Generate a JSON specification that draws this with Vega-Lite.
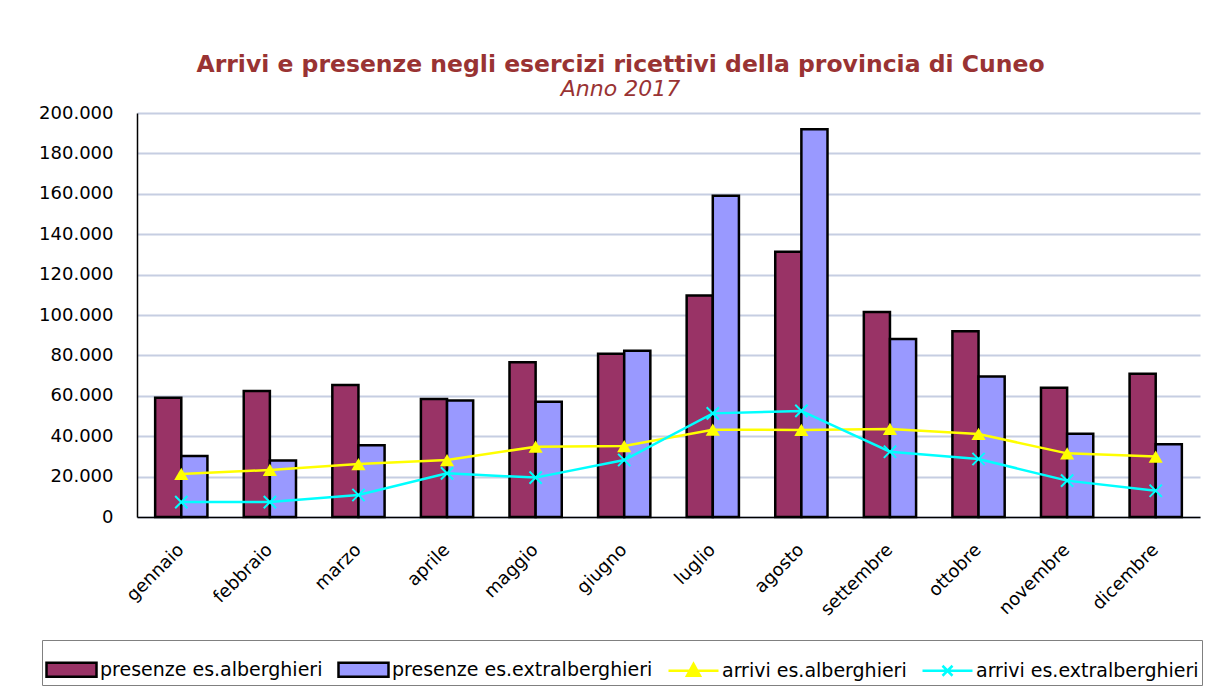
{
  "$schema": "https://vega.github.io/schema/vega-lite/v6.json",
  "width": 1063,
  "height": 404,
  "autosize": {"type": "none"},
  "padding": {"left": 137, "top": 113, "right": 17, "bottom": 169},
  "background": "white",
  "config": {
    "locale": {"number": {"decimal": ",", "thousands": ".", "grouping": [3], "currency": ["", " €"]}},
    "font": "DejaVu Sans",
    "view": {"stroke": null},
    "axis": {"labelFont": "DejaVu Sans", "labelColor": "black", "title": null}
  },
  "title": {
    "text": "Arrivi e presenze negli esercizi ricettivi della provincia di Cuneo",
    "subtitle": "Anno 2017",
    "anchor": "middle",
    "dx": -48,
    "offset": 4,
    "font": "DejaVu Sans",
    "fontSize": 23.5,
    "fontWeight": "bold",
    "color": "#993333",
    "subtitleFont": "DejaVu Sans",
    "subtitleFontSize": 22,
    "subtitleFontStyle": "italic",
    "subtitleColor": "#993333",
    "subtitlePadding": 3
  },
  "data": {
    "values": [
      {"mese": "gennaio", "serie": "presenze es.alberghieri", "valore": 59000},
      {"mese": "febbraio", "serie": "presenze es.alberghieri", "valore": 62400},
      {"mese": "marzo", "serie": "presenze es.alberghieri", "valore": 65300},
      {"mese": "aprile", "serie": "presenze es.alberghieri", "valore": 58400},
      {"mese": "maggio", "serie": "presenze es.alberghieri", "valore": 76600},
      {"mese": "giugno", "serie": "presenze es.alberghieri", "valore": 80800},
      {"mese": "luglio", "serie": "presenze es.alberghieri", "valore": 109700},
      {"mese": "agosto", "serie": "presenze es.alberghieri", "valore": 131300},
      {"mese": "settembre", "serie": "presenze es.alberghieri", "valore": 101500},
      {"mese": "ottobre", "serie": "presenze es.alberghieri", "valore": 92000},
      {"mese": "novembre", "serie": "presenze es.alberghieri", "valore": 64000},
      {"mese": "dicembre", "serie": "presenze es.alberghieri", "valore": 70900},
      {"mese": "gennaio", "serie": "presenze es.extralberghieri", "valore": 30200},
      {"mese": "febbraio", "serie": "presenze es.extralberghieri", "valore": 28000},
      {"mese": "marzo", "serie": "presenze es.extralberghieri", "valore": 35500},
      {"mese": "aprile", "serie": "presenze es.extralberghieri", "valore": 57700},
      {"mese": "maggio", "serie": "presenze es.extralberghieri", "valore": 57100},
      {"mese": "giugno", "serie": "presenze es.extralberghieri", "valore": 82300},
      {"mese": "luglio", "serie": "presenze es.extralberghieri", "valore": 159000},
      {"mese": "agosto", "serie": "presenze es.extralberghieri", "valore": 191900},
      {"mese": "settembre", "serie": "presenze es.extralberghieri", "valore": 88100},
      {"mese": "ottobre", "serie": "presenze es.extralberghieri", "valore": 69600},
      {"mese": "novembre", "serie": "presenze es.extralberghieri", "valore": 41200},
      {"mese": "dicembre", "serie": "presenze es.extralberghieri", "valore": 36000},
      {"mese": "gennaio", "serie": "arrivi es.alberghieri", "valore": 21300},
      {"mese": "febbraio", "serie": "arrivi es.alberghieri", "valore": 23300},
      {"mese": "marzo", "serie": "arrivi es.alberghieri", "valore": 26200},
      {"mese": "aprile", "serie": "arrivi es.alberghieri", "valore": 28200},
      {"mese": "maggio", "serie": "arrivi es.alberghieri", "valore": 34800},
      {"mese": "giugno", "serie": "arrivi es.alberghieri", "valore": 35100},
      {"mese": "luglio", "serie": "arrivi es.alberghieri", "valore": 43200},
      {"mese": "agosto", "serie": "arrivi es.alberghieri", "valore": 43100},
      {"mese": "settembre", "serie": "arrivi es.alberghieri", "valore": 43600},
      {"mese": "ottobre", "serie": "arrivi es.alberghieri", "valore": 41100},
      {"mese": "novembre", "serie": "arrivi es.alberghieri", "valore": 31500},
      {"mese": "dicembre", "serie": "arrivi es.alberghieri", "valore": 29900},
      {"mese": "gennaio", "serie": "arrivi es.extralberghieri", "valore": 7400},
      {"mese": "febbraio", "serie": "arrivi es.extralberghieri", "valore": 7400},
      {"mese": "marzo", "serie": "arrivi es.extralberghieri", "valore": 10900},
      {"mese": "aprile", "serie": "arrivi es.extralberghieri", "valore": 21600},
      {"mese": "maggio", "serie": "arrivi es.extralberghieri", "valore": 19500},
      {"mese": "giugno", "serie": "arrivi es.extralberghieri", "valore": 28200},
      {"mese": "luglio", "serie": "arrivi es.extralberghieri", "valore": 51300},
      {"mese": "agosto", "serie": "arrivi es.extralberghieri", "valore": 52500},
      {"mese": "settembre", "serie": "arrivi es.extralberghieri", "valore": 32300},
      {"mese": "ottobre", "serie": "arrivi es.extralberghieri", "valore": 28700},
      {"mese": "novembre", "serie": "arrivi es.extralberghieri", "valore": 18000},
      {"mese": "dicembre", "serie": "arrivi es.extralberghieri", "valore": 13000}
    ]
  },
  "layer": [
    {
      "transform": [{"filter": "indexof(datum.serie, 'presenze') === 0"}],
      "mark": {"type": "bar", "stroke": "black", "strokeWidth": 2.5, "opacity": 1},
      "encoding": {
        "x": {
          "field": "mese", "type": "nominal",
          "sort": ["gennaio","febbraio","marzo","aprile","maggio","giugno","luglio","agosto","settembre","ottobre","novembre","dicembre"],
          "scale": {"paddingInner": 0.41, "paddingOuter": 0.205},
          "axis": {"labelAngle": -45, "labelAlign": "right", "labelBaseline": "middle", "labelFontSize": 18, "ticks": false, "tickSize": 0, "labelPadding": 30, "domainColor": "black", "domainWidth": 1.5, "grid": false}
        },
        "xOffset": {"field": "serie", "type": "nominal", "sort": ["presenze es.alberghieri", "presenze es.extralberghieri"], "scale": {"paddingInner": 0}},
        "y": {
          "field": "valore", "type": "quantitative",
          "scale": {"domain": [0, 200000], "nice": false},
          "axis": {"values": [0,20000,40000,60000,80000,100000,120000,140000,160000,180000,200000], "format": ",d", "labelFontSize": 18, "ticks": false, "tickSize": 0, "labelPadding": 24, "domainColor": "black", "domainWidth": 1.5, "gridColor": "#c6cee2", "gridWidth": 2}
        },
        "fill": {
          "field": "serie", "type": "nominal",
          "scale": {
            "domain": ["presenze es.alberghieri", "presenze es.extralberghieri", "arrivi es.alberghieri", "arrivi es.extralberghieri"],
            "range": ["#993366", "#9999FF", "#FFFF00", "transparent"]
          },
          "legend": {"orient": "none", "legendX": -95, "legendY": 527, "direction": "horizontal", "title": null, "labelFont": "DejaVu Sans", "labelFontSize": 19, "labelColor": "black", "labelLimit": 400, "labelOffset": 2, "columnPadding": 10, "symbolStrokeWidth": 2.5, "symbolOpacity": 1, "strokeColor": "#808080", "fillColor": "white", "padding": 3}
        }
      }
    },
    {
      "transform": [{"filter": "indexof(datum.serie, 'arrivi') === 0"}],
      "mark": {"type": "line", "strokeWidth": 2.5},
      "encoding": {
        "x": {"field": "mese", "type": "nominal", "sort": ["gennaio","febbraio","marzo","aprile","maggio","giugno","luglio","agosto","settembre","ottobre","novembre","dicembre"]},
        "y": {"field": "valore", "type": "quantitative"},
        "stroke": {
          "field": "serie", "type": "nominal",
          "scale": {
            "domain": ["presenze es.alberghieri", "presenze es.extralberghieri", "arrivi es.alberghieri", "arrivi es.extralberghieri"],
            "range": ["black", "black", "#FFFF00", "#00FFFF"]
          },
          "legend": {"orient": "none", "legendX": -95, "legendY": 527, "direction": "horizontal", "title": null, "labelFont": "DejaVu Sans", "labelFontSize": 19, "labelColor": "black", "labelLimit": 400, "labelOffset": 2, "columnPadding": 10, "symbolStrokeWidth": 2.5, "symbolOpacity": 1, "strokeColor": "#808080", "fillColor": "white", "padding": 3}
        }
      }
    },
    {
      "transform": [{"filter": "datum.serie === 'arrivi es.alberghieri'"}],
      "mark": {"type": "point", "shape": "triangle-up", "filled": true, "color": "#FFFF00", "size": 200, "opacity": 1},
      "encoding": {
        "x": {"field": "mese", "type": "nominal", "sort": ["gennaio","febbraio","marzo","aprile","maggio","giugno","luglio","agosto","settembre","ottobre","novembre","dicembre"]},
        "y": {"field": "valore", "type": "quantitative"}
      }
    },
    {
      "transform": [{"filter": "datum.serie === 'arrivi es.extralberghieri'"}],
      "mark": {"type": "point", "shape": "M-1,-1L1,1M-1,1L1,-1", "filled": false, "color": "#00FFFF", "size": 150, "strokeWidth": 2, "opacity": 1},
      "encoding": {
        "x": {"field": "mese", "type": "nominal", "sort": ["gennaio","febbraio","marzo","aprile","maggio","giugno","luglio","agosto","settembre","ottobre","novembre","dicembre"]},
        "y": {"field": "valore", "type": "quantitative"}
      }
    },
    {
      "transform": [{"filter": "indexof(datum.serie, 'arrivi') === 0"}],
      "mark": {"type": "point", "strokeWidth": 2.5, "opacity": 0},
      "encoding": {
        "x": {"field": "mese", "type": "nominal", "sort": ["gennaio","febbraio","marzo","aprile","maggio","giugno","luglio","agosto","settembre","ottobre","novembre","dicembre"]},
        "y": {"field": "valore", "type": "quantitative"},
        "fill": {"field": "serie", "type": "nominal"},
        "stroke": {"field": "serie", "type": "nominal"},
        "shape": {
          "field": "serie", "type": "nominal",
          "scale": {
            "domain": ["presenze es.alberghieri", "presenze es.extralberghieri", "arrivi es.alberghieri", "arrivi es.extralberghieri"],
            "range": ["M-1,-0.28H1V0.28H-1Z", "M-1,-0.28H1V0.28H-1Z", "M-1,0H1M0,-0.28L0.26,0.2L-0.26,0.2Z", "M-1,0H1M-0.2,-0.2L0.2,0.2M-0.2,0.2L0.2,-0.2"]
          },
          "legend": {"orient": "none", "legendX": -95, "legendY": 527, "direction": "horizontal", "title": null, "labelFont": "DejaVu Sans", "labelFontSize": 19, "labelColor": "black", "labelLimit": 400, "labelOffset": 2, "columnPadding": 10, "symbolStrokeWidth": 2.5, "symbolOpacity": 1, "strokeColor": "#808080", "fillColor": "white", "padding": 3}
        },
        "size": {
          "field": "serie", "type": "nominal",
          "scale": {
            "type": "ordinal",
            "domain": ["presenze es.alberghieri", "presenze es.extralberghieri", "arrivi es.alberghieri", "arrivi es.extralberghieri"],
            "range": [2500, 2500, 2500, 2500]
          },
          "legend": {"orient": "none", "legendX": -95, "legendY": 527, "direction": "horizontal", "title": null, "labelFont": "DejaVu Sans", "labelFontSize": 19, "labelColor": "black", "labelLimit": 400, "labelOffset": 2, "columnPadding": 10, "symbolStrokeWidth": 2.5, "symbolOpacity": 1, "strokeColor": "#808080", "fillColor": "white", "padding": 3}
        }
      }
    }
  ]
}
